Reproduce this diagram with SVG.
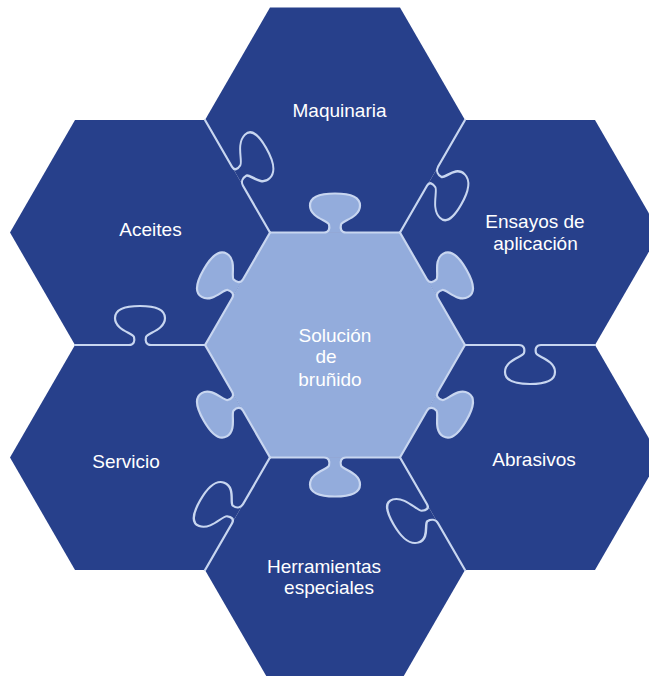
<svg xmlns="http://www.w3.org/2000/svg" xmlns:xlink="http://www.w3.org/1999/xlink" width="649" height="676" viewBox="0 0 649 676">
  <style>
    .outer { fill: #27408B; }
    .center { fill: #93ACDC; }
    .seam { fill: none; stroke: #C8D6F0; stroke-width: 2.2; stroke-linejoin: round; stroke-linecap: round; }
    .label { font-family: "Liberation Sans", Arial, sans-serif; font-size: 19px; fill: #FFFFFF; text-anchor: middle; }
  </style>
  <defs>
    <path id="tabFill" d="M -11,0 C -6,0 -5,-4 -6,-8 C -7,-12 -25,-15 -25,-27 C -25,-36 -14,-39 0,-39 C 14,-39 25,-36 25,-27 C 25,-15 7,-12 6,-8 C 5,-4 6,0 11,0 Z"/>
    <path id="edge" d="M -65,0 L -11,0 C -6,0 -5,-4 -6,-8 C -7,-12 -25,-15 -25,-27 C -25,-36 -14,-39 0,-39 C 14,-39 25,-36 25,-27 C 25,-15 7,-12 6,-8 C 5,-4 6,0 11,0 L 65,0"/>
  </defs>
  <rect width="649" height="676" fill="#FFFFFF"/>

  <g id="maquinaria">
    <polygon class="outer" points="465,120 400,232.5 270,232.5 205,120 270,7.5 400,7.5"/>
    <text class="label" x="339.5" y="117">Maquinaria</text>
  </g>
  <g id="aceites">
    <polygon class="outer" points="270,232.5 205,345 75,345 10,232.5 75,120 205,120"/>
    <text class="label" x="150.5" y="236">Aceites</text>
  </g>
  <g id="ensayos">
    <polygon class="outer" points="660,232.5 595,345 465,345 400,232.5 465,120 595,120"/>
    <text class="label" x="535" y="228">Ensayos de</text>
    <text class="label" x="535.5" y="250">aplicación</text>
  </g>
  <g id="abrasivos">
    <polygon class="outer" points="660,457.5 595,570 465,570 400,457.5 465,345 595,345"/>
    <text class="label" x="534" y="466">Abrasivos</text>
  </g>
  <g id="herramientas">
    <polygon class="outer" points="465,570 400,682.5 270,682.5 205,570 270,457.5 400,457.5"/>
    <text class="label" x="324" y="573">Herramientas</text>
    <text class="label" x="329" y="594">especiales</text>
  </g>
  <g id="servicio">
    <polygon class="outer" points="270,457.5 205,570 75,570 10,457.5 75,345 205,345"/>
    <text class="label" x="126" y="468">Servicio</text>
  </g>
  <g id="solucion">
    <polygon class="center" points="465,345 400,457.5 270,457.5 205,345 270,232.5 400,232.5"/>
    <use class="center" xlink:href="#tabFill" transform="translate(335 345) rotate(0) translate(0 -112.5)"/>
    <use class="center" xlink:href="#tabFill" transform="translate(335 345) rotate(60) translate(0 -112.5)"/>
    <use class="center" xlink:href="#tabFill" transform="translate(335 345) rotate(120) translate(0 -112.5)"/>
    <use class="center" xlink:href="#tabFill" transform="translate(335 345) rotate(180) translate(0 -112.5)"/>
    <use class="center" xlink:href="#tabFill" transform="translate(335 345) rotate(240) translate(0 -112.5)"/>
    <use class="center" xlink:href="#tabFill" transform="translate(335 345) rotate(300) translate(0 -112.5)"/>
    <text class="label" x="335" y="342">Solución</text>
    <text class="label" x="326" y="363">de</text>
    <text class="label" x="330" y="386">bruñido</text>
  </g>

  <g id="connectors">
    <use class="seam" xlink:href="#edge" transform="translate(335 345) rotate(0) translate(0 -112.5)"/>
    <use class="seam" xlink:href="#edge" transform="translate(335 345) rotate(60) translate(0 -112.5)"/>
    <use class="seam" xlink:href="#edge" transform="translate(335 345) rotate(120) translate(0 -112.5)"/>
    <use class="seam" xlink:href="#edge" transform="translate(335 345) rotate(180) translate(0 -112.5)"/>
    <use class="seam" xlink:href="#edge" transform="translate(335 345) rotate(240) translate(0 -112.5)"/>
    <use class="seam" xlink:href="#edge" transform="translate(335 345) rotate(300) translate(0 -112.5)"/>
    <use class="seam" xlink:href="#edge" transform="translate(237.5 176.25) rotate(60) skewX(15)"/>
    <use class="seam" xlink:href="#edge" transform="translate(432.5 176.25) rotate(120) skewX(-15)"/>
    <use class="seam" xlink:href="#edge" transform="translate(530 345) rotate(180)"/>
    <use class="seam" xlink:href="#edge" transform="translate(432.5 513.75) rotate(240) skewX(-15)"/>
    <use class="seam" xlink:href="#edge" transform="translate(237.5 513.75) rotate(300) skewX(10)"/>
    <use class="seam" xlink:href="#edge" transform="translate(140 345) rotate(0)"/>
  </g>
</svg>
